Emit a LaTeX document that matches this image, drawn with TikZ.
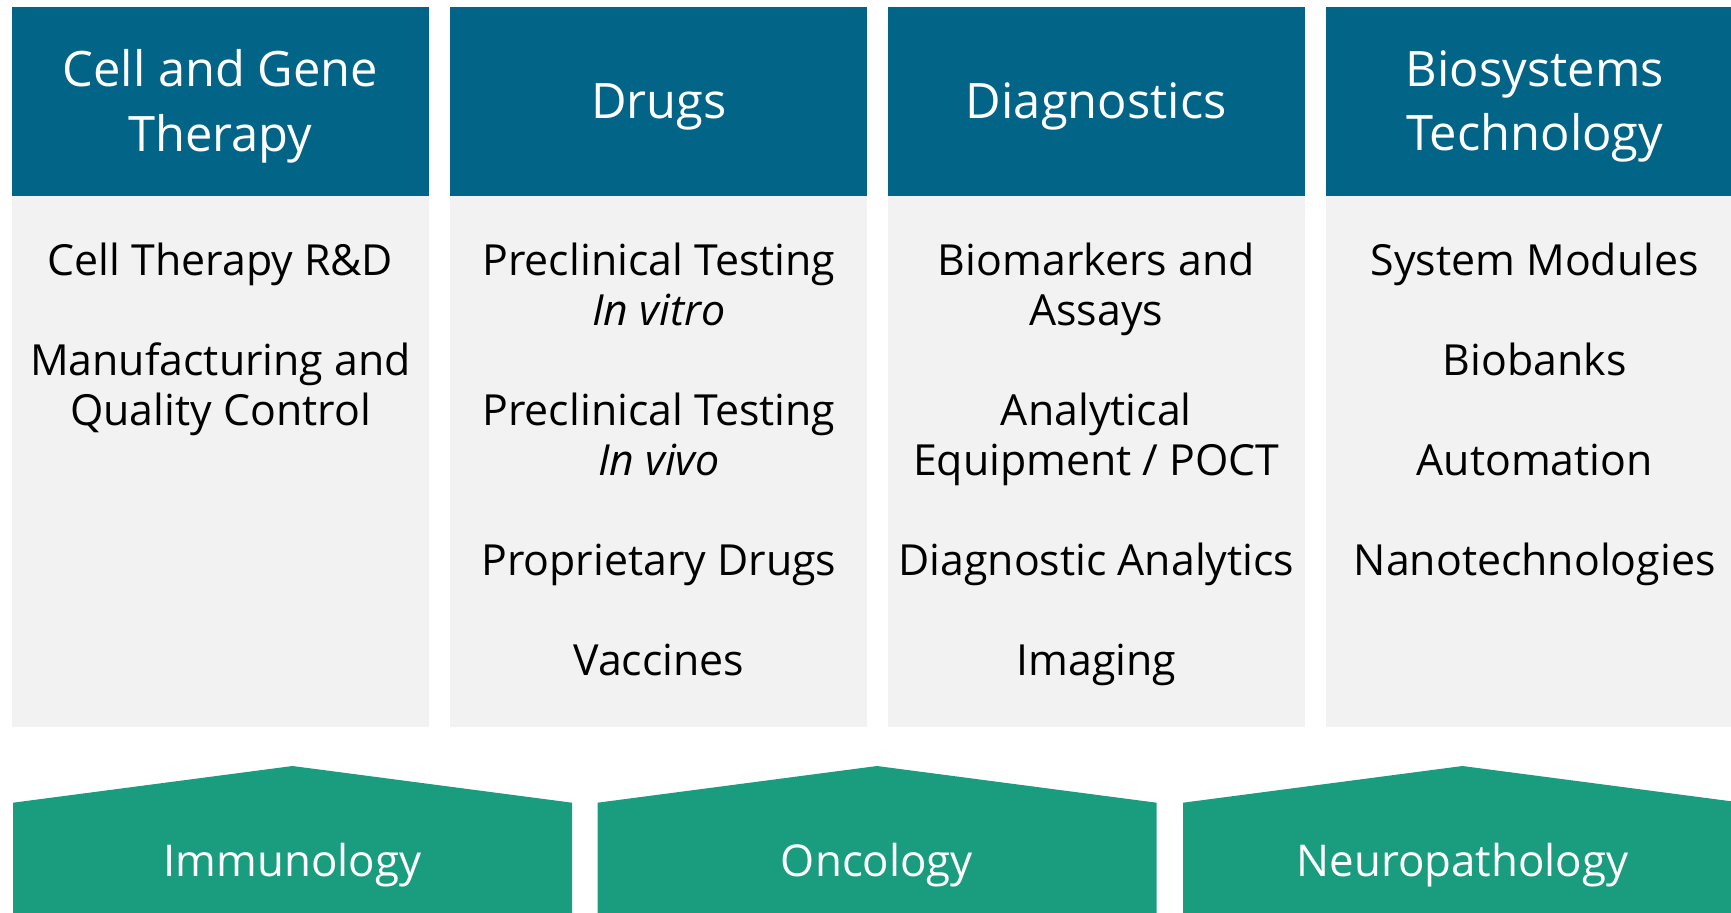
\documentclass[tikz,border=0pt]{standalone}
\usepackage{fontspec}
\setmainfont{Open Sans}
\usetikzlibrary{positioning}

\definecolor{headblue}{HTML}{026487}
\definecolor{fieldgreen}{HTML}{1A9C7E}
\definecolor{bodygray}{HTML}{F2F2F2}

\begin{document}
\begin{tikzpicture}[
		x=1bp, y=-1bp,
		head/.style={
			fill=headblue, inner sep=0pt,
			minimum width=417bp, minimum height=189bp
		},
		headtxt/.style={text=white, inner sep=0pt, align=center, font=\fontsize{49}{65}\selectfont},
		body/.style={fill=bodygray, inner sep=0pt, minimum width=417bp, minimum height=531bp},
		items/.style={align=center, inner sep=0pt, anchor=north, font=\fontsize{43}{50}\selectfont},
		field/.style={text=white, inner sep=0pt, font=\fontsize{44}{56}\selectfont}
		]
		\useasboundingbox (0,0) rectangle (1731,912);
		\clip (0,0) rectangle (1731,912);
		
		% ---- Kopfzeile: vier Bereiche
		\node[head]                    (cgt) at (220.5,101.5) {};
		\node[head, right=21bp of cgt] (drg) {};
		\node[head, right=20bp of drg] (dia) {};
		\node[head, right=21bp of dia] (bio) {};
		\node[headtxt] (cgttxt) at ([yshift=-5bp]cgt.center) {Cell and Gene\\Therapy};
		\node[headtxt] (drgtxt) at ([yshift=-5bp]drg.center) {Drugs};
		\node[headtxt] (diatxt) at ([yshift=-5bp]dia.center) {Diagnostics};
		\node[headtxt] (biotxt) at ([yshift=-5bp]bio.center) {Biosystems\\Technology};
		
		% ---- graue Felder darunter
		\node[body, below=0pt of cgt] (cgtbody) {};
		\node[body, below=0pt of drg] (drgbody) {};
		\node[body, below=0pt of dia] (diabody) {};
		\node[body, below=0pt of bio] (biobody) {};
		
		% ---- Einträge (Zeilenabstand 50bp, Leerzeile zwischen den Punkten)
		\node[items, below=47bp of cgtbody.north] (cgtlist)
			{Cell Therapy R\&D\\[50bp] Manufacturing and\\Quality Control};
		\node[items, below=47bp of drgbody.north] (drglist)
			{Preclinical Testing\\\textit{In vitro}\\[50bp] Preclinical Testing\\\textit{In vivo}\\[50bp]
			 Proprietary Drugs\\[50bp] Vaccines};
		\node[items, below=47bp of diabody.north] (dialist)
			{Biomarkers and\\Assays\\[50bp] Analytical\\Equipment / POCT\\[50bp]
			 Diagnostic Analytics\\[50bp] Imaging};
		\node[items, below=47bp of biobody.north] (biolist)
			{System Modules\\[50bp] Biobanks\\[50bp] Automation\\[50bp] Nanotechnologies};
		
		% ---- Indikationsfelder unten (Hausform)
		\foreach \cx/\nm/\txt in {292.5/imm/Immunology, 877/onc/Oncology, 1462.5/neu/Neuropathology}{
			\fill[fieldgreen] ({\cx-279.5},802.7) -- (\cx,766) -- ({\cx+279.5},802.7)
				-- ({\cx+279.5},960) -- ({\cx-279.5},960) -- cycle;
			\node[field] (\nm) at (\cx,865) {\txt};
		}
	\end{tikzpicture}
\end{document}
